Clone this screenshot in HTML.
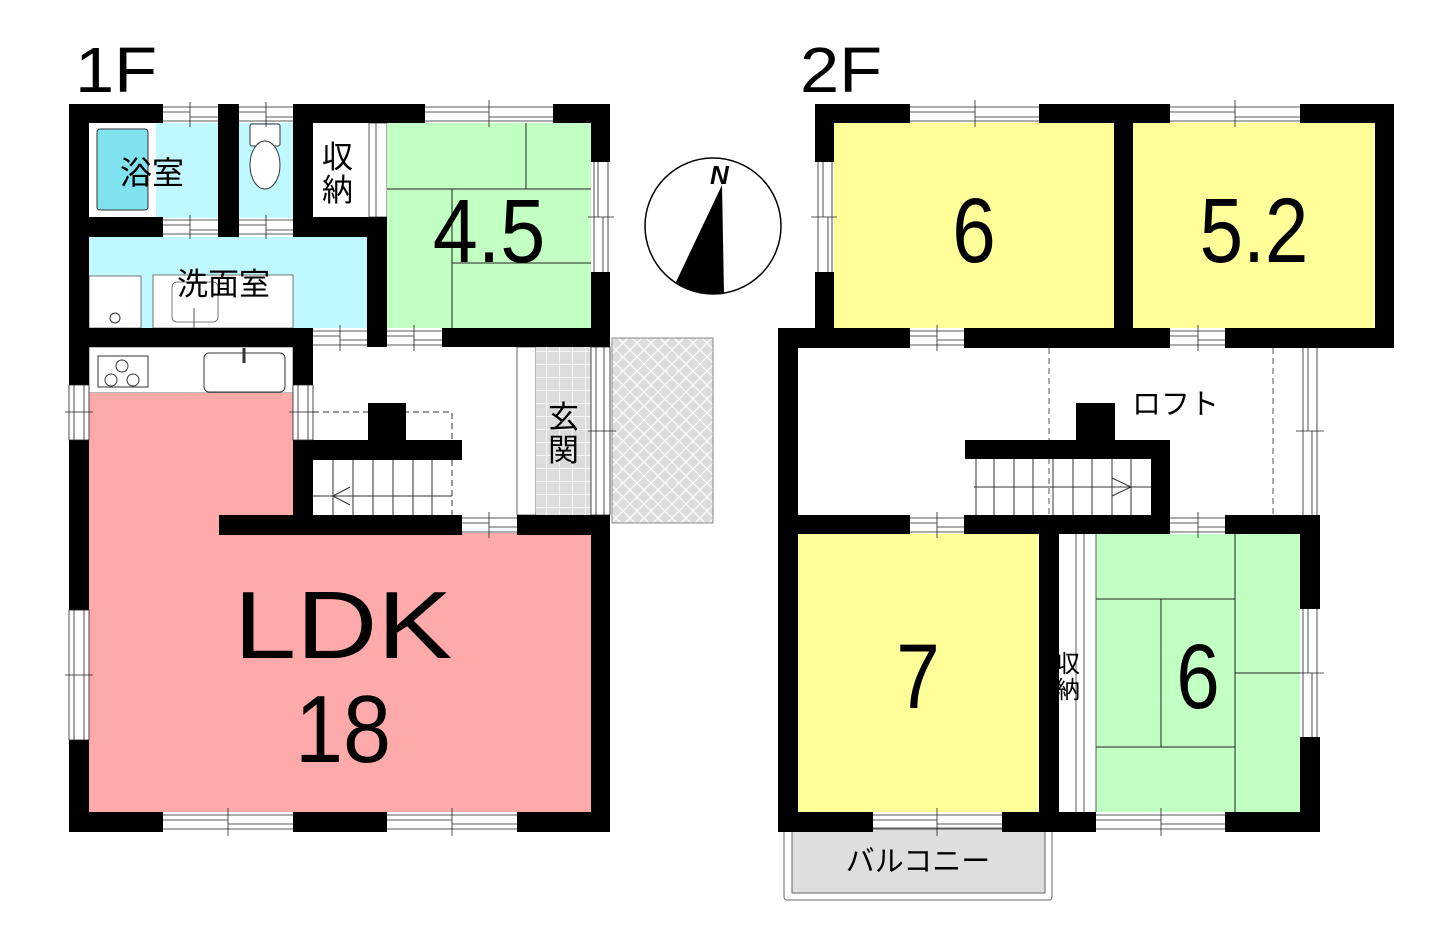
<!DOCTYPE html>
<html><head><meta charset="utf-8"><style>
html,body{margin:0;padding:0;background:#fff;}
svg{display:block;}
text{font-family:"Liberation Sans","Noto Sans CJK JP",sans-serif;}
</style></head><body>
<svg width="1451" height="941" viewBox="0 0 1451 941" xmlns="http://www.w3.org/2000/svg">
<defs>
<pattern id="hatch" width="14" height="14" patternUnits="userSpaceOnUse">
<rect width="14" height="14" fill="#dcdcdc"/>
<path d="M0 0L14 14M14 0L0 14" stroke="#fff" stroke-width="1.2"/>
</pattern>
<pattern id="tile" width="13" height="13" patternUnits="userSpaceOnUse">
<rect width="13" height="13" fill="#dcdcdc"/>
<path d="M0 0H13M0 0V13" stroke="#fff" stroke-width="1.5"/>
</pattern>
</defs>

<!-- ===== 1F ===== -->
<text x="75" y="92" font-size="64" transform="translate(75 0) scale(1.1 1) translate(-75 0)">1F</text>
<rect x="89" y="123" width="129" height="95" fill="#fff"/>
<rect x="156" y="123" width="62" height="95" fill="#bff9ff"/>
<rect x="97" y="129" width="51" height="81" rx="3" fill="#80e2ee" stroke="#333" stroke-width="1"/>
<rect x="239" y="123" width="54" height="95" fill="#bff9ff"/>
<rect x="313" y="123" width="56" height="94" fill="#fff"/>
<rect x="369" y="123" width="18" height="94" fill="#fff" stroke="#333" stroke-width="0.8"/>
<line x1="376" y1="123" x2="376" y2="217" stroke="#333" stroke-width="0.8"/>
<rect x="387" y="123" width="204" height="205" fill="#c2ffc2"/>
<g stroke="#222" stroke-width="1">
<line x1="387" y1="189" x2="591" y2="189"/><line x1="526" y1="123" x2="526" y2="189"/>
<line x1="452" y1="189" x2="452" y2="328"/><line x1="452" y1="263" x2="591" y2="263"/>
</g>
<rect x="89" y="237" width="278" height="91" fill="#bff9ff"/>
<rect x="89" y="276" width="52" height="52" fill="#fff" stroke="#555" stroke-width="0.8"/>
<circle cx="115" cy="318" r="5" fill="#fff" stroke="#333"/>
<rect x="153" y="275" width="140" height="53" fill="#fff" stroke="#555" stroke-width="0.8"/>
<rect x="172" y="282" width="46" height="40" rx="5" fill="#fff" stroke="#555" stroke-width="0.8"/>
<line x1="194" y1="308" x2="194" y2="328" stroke="#555"/>
<rect x="250" y="124" width="30" height="22" rx="2" fill="#fff" stroke="#333"/>
<ellipse cx="265" cy="165" rx="15" ry="24" fill="#fff" stroke="#333"/>
<rect x="89" y="347" width="204" height="46" fill="#fff" stroke="#555" stroke-width="0.8"/>
<rect x="98" y="356" width="50" height="31" fill="#fff" stroke="#333"/>
<circle cx="122" cy="366" r="6" fill="none" stroke="#333"/><circle cx="111" cy="380" r="6" fill="none" stroke="#333"/><circle cx="133" cy="380" r="6" fill="none" stroke="#333"/>
<rect x="204" y="353" width="81" height="39" rx="5" fill="#fff" stroke="#333"/>
<line x1="244" y1="348" x2="244" y2="363" stroke="#333" stroke-width="3"/>
<path d="M89 393H293V533H591V812H89Z" fill="#ffaaaa"/>
<g stroke="#333" stroke-width="1" fill="none">
<path d="M313 412H452V440" stroke-dasharray="6 4"/>
<line x1="452" y1="460" x2="452" y2="515" stroke-dasharray="6 4"/>
<line x1="313" y1="496" x2="452" y2="496"/>
<path d="M350 487L333 496L350 505"/>
<line x1="333" y1="460" x2="333" y2="515"/><line x1="353" y1="460" x2="353" y2="515"/><line x1="373" y1="460" x2="373" y2="515"/><line x1="393" y1="460" x2="393" y2="515"/><line x1="413" y1="460" x2="413" y2="515"/><line x1="432" y1="460" x2="432" y2="515"/>
</g>
<rect x="368" y="403" width="38" height="39" fill="#000"/>
<rect x="293" y="440" width="169" height="20" fill="#000"/>
<rect x="517" y="347" width="19" height="168" fill="#fff" stroke="#444" stroke-width="0.8"/>
<rect x="536" y="347" width="55" height="168" fill="url(#tile)"/>
<rect x="612" y="338" width="101" height="185" fill="url(#hatch)" stroke="#888" stroke-width="1"/>
<g fill="#000">
<rect x="69" y="104" width="20" height="728"/>
<rect x="69" y="104" width="94" height="19"/>
<rect x="218" y="104" width="21" height="19"/>
<rect x="293" y="104" width="132" height="19"/>
<rect x="553" y="104" width="57" height="19"/>
<rect x="591" y="104" width="19" height="58"/>
<rect x="591" y="272" width="19" height="75"/>
<rect x="218" y="104" width="21" height="133"/>
<rect x="89" y="217" width="74" height="20"/>
<rect x="293" y="104" width="20" height="133"/>
<rect x="293" y="217" width="94" height="20"/>
<rect x="367" y="217" width="20" height="130"/>
<rect x="69" y="328" width="244" height="19"/>
<rect x="442" y="328" width="168" height="19"/>
<rect x="293" y="328" width="20" height="57"/>
<rect x="293" y="440" width="20" height="95"/>
<rect x="219" y="515" width="243" height="20"/>
<rect x="517" y="515" width="93" height="20"/>
<rect x="591" y="515" width="19" height="317"/>
<rect x="69" y="812" width="94" height="20"/>
<rect x="293" y="812" width="94" height="20"/>
<rect x="517" y="812" width="93" height="20"/>
</g>
<g fill="#fff" stroke="#222" stroke-width="0.8">
<rect x="69" y="385" width="20" height="55"/>
<rect x="69" y="610" width="20" height="130"/>
<rect x="293" y="385" width="20" height="55"/>
<rect x="591" y="347" width="19" height="168"/>
</g>
<g stroke="#222" stroke-width="0.8" fill="none">
<path d="M163 107H218M163 121H218M163 112H190M190 117H218M190 102V127"/>
<path d="M239 107H293M239 121H293M239 112H266M266 117H293M266 102V127"/>
<path d="M425 107H553M425 121H553M425 112H489M489 117H553M489 100V127"/>
<path d="M163 220H218M163 234H218M163 225H190M190 230H218M190 215V239"/>
<path d="M239 220H293M239 234H293M239 225H266M266 230H293M266 215V239"/>
<path d="M594 162V272M608 162V272M598 162V217M603 217V272M588 217H614"/>
<path d="M313 331H367M313 345H367M313 336H340M340 340H367M340 325V351"/>
<path d="M387 331H442M387 345H442M387 336H414M414 340H442M414 325V351"/>
<path d="M462 518H517M462 532H517M462 523H489M489 527H517M489 512V538"/>
<path d="M163 815H293M163 829H293M163 820H228M228 824H293M228 808V836"/>
<path d="M387 815H517M387 829H517M387 820H452M452 824H517M452 808V836"/>
<path d="M74 385V440M84 385V440M65 412H93"/>
<path d="M74 610V740M84 610V740M65 675H93"/>
<path d="M298 385V440M308 385V440M289 412H317"/>
<path d="M596 347V515M604 347V515M588 431H616"/>
</g>
<text x="120" y="184" font-size="32">浴室</text>
<text x="177" y="295" font-size="31">洗面室</text>
<text x="322" y="168" font-size="31">収</text>
<text x="322" y="201" font-size="31">納</text>
<text x="548" y="428" font-size="31">玄</text>
<text x="548" y="461" font-size="31">関</text>
<text x="489" y="262" font-size="90" text-anchor="middle" transform="translate(489 0) scale(0.9 1) translate(-489 0)">4.5</text>
<text x="343" y="658" font-size="96" text-anchor="middle" transform="translate(343 0) scale(1.17 1) translate(-343 0)">LDK</text>
<text x="343" y="762" font-size="96" text-anchor="middle" transform="translate(343 0) scale(0.9 1) translate(-343 0)">18</text>

<circle cx="713" cy="226" r="68" fill="#fff" stroke="#000" stroke-width="1.5"/>
<path d="M722 185L676 282A68 68 0 0 0 724 294Z" fill="#000"/>
<text x="710" y="184" font-size="26" font-weight="bold" font-style="italic" font-family="Liberation Serif,serif">N</text>

<!-- ===== 2F ===== -->
<text x="800" y="92" font-size="64" transform="translate(800 0) scale(1.1 1) translate(-800 0)">2F</text>
<rect x="834" y="123" width="280" height="205" fill="#ffff99"/>
<rect x="1133" y="123" width="242" height="205" fill="#ffff99"/>
<rect x="798" y="534" width="241" height="278" fill="#ffff99"/>
<rect x="1096" y="534" width="204" height="278" fill="#c2ffc2"/>
<g stroke="#222" stroke-width="1">
<line x1="1096" y1="599" x2="1235" y2="599"/><line x1="1235" y1="534" x2="1235" y2="812"/>
<line x1="1161" y1="599" x2="1161" y2="747"/><line x1="1096" y1="747" x2="1235" y2="747"/>
<line x1="1235" y1="673" x2="1300" y2="673"/>
</g>
<rect x="1059" y="534" width="37" height="278" fill="#fff"/>
<g stroke="#333" stroke-width="0.8"><line x1="1076" y1="534" x2="1076" y2="812"/><line x1="1084" y1="534" x2="1084" y2="812"/><line x1="1096" y1="534" x2="1096" y2="812"/></g>
<g stroke="#555" stroke-width="1" stroke-dasharray="6 4"><line x1="1049" y1="348" x2="1049" y2="515"/><line x1="1273" y1="348" x2="1273" y2="515"/></g>
<g stroke="#333" stroke-width="1" fill="none">
<line x1="974" y1="487" x2="1151" y2="487"/>
<path d="M1112 478L1131 487L1112 496"/>
<line x1="994" y1="459" x2="994" y2="515"/><line x1="1014" y1="459" x2="1014" y2="515"/><line x1="1033" y1="459" x2="1033" y2="515"/><line x1="1053" y1="459" x2="1053" y2="515"/><line x1="1073" y1="459" x2="1073" y2="515"/><line x1="1092" y1="459" x2="1092" y2="515"/><line x1="1112" y1="459" x2="1112" y2="515"/><line x1="1131" y1="459" x2="1131" y2="515"/><line x1="976" y1="459" x2="976" y2="515"/>
</g>
<rect x="784" y="828" width="268" height="72" rx="3" fill="#fff" stroke="#666" stroke-width="1"/>
<rect x="792" y="828" width="253" height="65" fill="#dedede" stroke="#666" stroke-width="1"/>
<g fill="#000">
<rect x="815" y="104" width="95" height="19"/>
<rect x="1039" y="104" width="131" height="19"/>
<rect x="1300" y="104" width="94" height="19"/>
<rect x="815" y="104" width="19" height="58"/>
<rect x="815" y="272" width="19" height="76"/>
<rect x="1114" y="104" width="19" height="244"/>
<rect x="1375" y="104" width="19" height="244"/>
<rect x="778" y="328" width="132" height="20"/>
<rect x="964" y="328" width="206" height="20"/>
<rect x="1225" y="328" width="169" height="20"/>
<rect x="778" y="328" width="20" height="504"/>
<rect x="1076" y="403" width="39" height="39"/>
<rect x="965" y="440" width="205" height="19"/>
<rect x="1151" y="440" width="19" height="94"/>
<rect x="778" y="515" width="132" height="19"/>
<rect x="964" y="515" width="206" height="19"/>
<rect x="1225" y="515" width="95" height="19"/>
<rect x="1039" y="534" width="20" height="298"/>
<rect x="1300" y="515" width="20" height="94"/>
<rect x="1300" y="737" width="20" height="95"/>
<rect x="778" y="812" width="95" height="20"/>
<rect x="1002" y="812" width="94" height="20"/>
<rect x="1225" y="812" width="95" height="20"/>
</g>
<g stroke="#222" stroke-width="0.8" fill="none">
<path d="M910 107H1039M910 121H1039M910 112H975M975 117H1039M975 100V127"/>
<path d="M1170 107H1300M1170 121H1300M1170 112H1235M1235 117H1300M1235 100V127"/>
<path d="M818 162V272M832 162V272M823 162V217M828 217V272M811 217H837"/>
<path d="M910 331H964M910 345H964M910 336H937M937 340H964M937 325V351"/>
<path d="M1170 331H1225M1170 345H1225M1170 336H1198M1198 340H1225M1198 325V351"/>
<path d="M910 518H964M910 532H964M910 523H937M937 527H964M937 512V538"/>
<path d="M1170 518H1225M1170 532H1225M1170 523H1198M1198 527H1225M1198 512V538"/>
<path d="M1303 348V515M1317 348V515M1308 348V431M1312 431V515M1296 431H1324"/>
<path d="M1303 609V737M1317 609V737M1308 609V673M1312 673V737M1296 673H1324"/>
<path d="M873 815H1002M873 829H1002M873 820H937M937 824H1002M937 808V836"/>
<path d="M1096 815H1225M1096 829H1225M1096 820H1161M1161 824H1225M1161 808V836"/>
</g>
<text x="974" y="262" font-size="92" text-anchor="middle" transform="translate(974 0) scale(0.85 1) translate(-974 0)">6</text>
<text x="1254" y="262" font-size="92" text-anchor="middle" transform="translate(1254 0) scale(0.85 1) translate(-1254 0)">5.2</text>
<text x="918" y="708" font-size="92" text-anchor="middle" transform="translate(918 0) scale(0.85 1) translate(-918 0)">7</text>
<text x="1198" y="708" font-size="92" text-anchor="middle" transform="translate(1198 0) scale(0.85 1) translate(-1198 0)">6</text>
<text x="1132" y="414" font-size="29">ロフト</text>
<text x="1056" y="672" font-size="24">収</text>
<text x="1056" y="698" font-size="24">納</text>
<text x="918" y="871" font-size="29" text-anchor="middle">バルコニー</text>
</svg>
</body></html>
